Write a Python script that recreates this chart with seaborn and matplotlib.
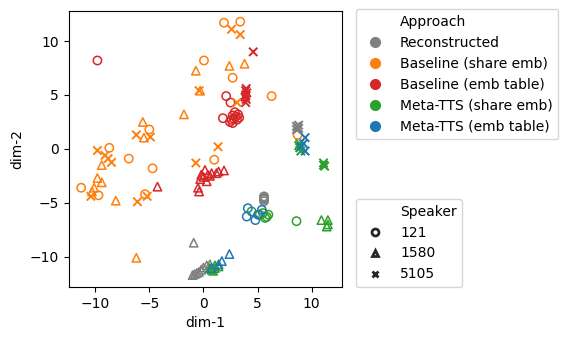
import numpy as np
import pandas as pd
import matplotlib
matplotlib.use('Agg')
import matplotlib.pyplot as plt
from matplotlib.lines import Line2D
import seaborn as sns

approaches = ['Reconstructed', 'Baseline (share emb)', 'Baseline (emb table)',
              'Meta-TTS (share emb)', 'Meta-TTS (emb table)']
speakers = ['121', '1580', '5105']
colors = ['tab:gray', 'tab:orange', 'tab:red', 'tab:green', 'tab:blue']

# Reconstructed
recon_spk = ['121'] * 5 + ['1580'] * 9 + ['5105'] * 5
recon_d1 = [5.6, 5.6, 5.6, 5.6, 5.6,
            -0.9, -1.0, -0.8, -0.6, -0.4, -0.2, 0.0, 0.3, 0.6,
            8.6, 8.7, 8.8, 8.6, 8.8]
recon_d2 = [-4.4, -4.5, -4.6, -4.7, -4.85,
            -8.7, -11.7, -11.6, -11.5, -11.4, -11.2, -11.0, -10.8, -10.7,
            1.8, 2.0, 2.2, 2.1, 1.9]

# Baseline (share emb)
bshare_spk = ['121'] * 14 + ['1580'] * 14 + ['5105'] * 15
bshare_d1 = [1.9, 3.4, 0.05, 2.7, 6.3, -5.0, -8.7, -6.9, -4.7, 1.0, -11.3, -9.7, -5.4, 8.7,
             -0.7, -0.3, -1.8, -5.6, -5.5, 2.4, 3.8, -9.4, -9.8, -9.4, -10.1, -10.3, -8.1, -6.2,
             2.6, 3.4, -0.4, -6.2, -4.9, -9.8, -9.1, -8.8, -8.5, -10.4, -6.1, -5.2, -0.7, 1.35, 3.1]
bshare_d2 = [11.7, 11.8, 8.2, 6.6, 4.9, 1.8, 0.1, -0.9, -1.8, -1.0, -3.6, -4.3, -4.2, 1.3,
             7.25, 5.4, 3.2, 2.5, 1.05, 7.7, 7.9, -1.5, -2.7, -3.1, -3.6, -3.95, -4.8, -10.1,
             11.1, 10.6, 5.4, 1.3, 1.1, -0.15, -0.6, -0.9, -1.25, -4.4, -4.9, -4.4, -1.3, 0.2, 4.3]

# Baseline (emb table)
btable_spk = ['121'] * 14 + ['1580'] * 14 + ['5105'] * 8
btable_d1 = [-9.8, 2.1, 2.5, 1.8, 2.45, 2.7, 2.8, 3.0, 3.2, 2.9, 3.1, 2.7, 3.3, 2.6,
             0.14, 0.0, 0.4, 0.75, 1.2, 1.9, -0.5, 0.3, -0.2, -4.25, -0.4, 1.4, 0.6, -0.3,
             4.6, 3.9, 3.95, 3.85, 3.9, 4.0, 3.9, 3.95]
btable_d2 = [8.2, 4.9, 4.3, 2.85, 2.5, 2.4, 2.8, 3.0, 3.2, 3.4, 2.7, 3.1, 2.9, 2.7,
             -1.95, -2.6, -2.4, -2.25, -2.25, -2.0, -3.6, -3.0, -2.4, -3.5, -3.95, -2.1, -2.5, -2.8,
             9.0, 4.3, 4.6, 4.8, 5.0, 5.2, 5.4, 5.6]

# Meta-TTS (share emb)
mshare_spk = ['121'] * 7 + ['1580'] * 10 + ['5105'] * 7
mshare_d1 = [4.45, 5.5, 5.85, 5.7, 5.2, 6.0, 8.6,
             10.9, 11.5, 11.5, 11.4, 0.75, 1.05, 1.4, 0.9, 0.6, 1.07,
             8.9, 8.9, 9.0, 8.8, 11.1, 11.1, 11.2]
mshare_d2 = [-5.8, -5.95, -6.3, -6.4, -6.1, -6.1, -6.7,
             -6.6, -6.6, -7.0, -7.2, -11.2, -11.05, -10.9, -11.3, -11.05, -10.8,
             0.5, 0.1, -0.2, 0.3, -1.5, -1.3, -1.6]

# Meta-TTS (emb table)
mtable_spk = ['121'] * 5 + ['1580'] * 4 + ['5105'] * 4
mtable_d1 = [4.1, 4.0, 4.8, 5.4, 5.05,
             2.4, 1.7, 0.75, 1.4,
             9.4, 9.25, 9.0, 9.4]
mtable_d2 = [-5.5, -6.27, -6.6, -5.65, -6.1,
             -9.75, -10.4, -11.05, -10.7,
             1.05, 0.5, 0.2, -0.2]

frames = []
for name, spk, d1, d2 in [
        (approaches[0], recon_spk, recon_d1, recon_d2),
        (approaches[1], bshare_spk, bshare_d1, bshare_d2),
        (approaches[2], btable_spk, btable_d1, btable_d2),
        (approaches[3], mshare_spk, mshare_d1, mshare_d2),
        (approaches[4], mtable_spk, mtable_d1, mtable_d2)]:
    frames.append(pd.DataFrame({'Approach': name, 'Speaker': spk, 'dim-1': d1, 'dim-2': d2}))
df = pd.concat(frames, ignore_index=True)

palette = dict(zip(approaches, colors))
markers = {'121': 'o', '1580': '^', '5105': 'x'}

fig, ax = plt.subplots(figsize=(5.68, 3.4), dpi=100)
fig.subplots_adjust(left=0.121, right=0.602, top=0.968, bottom=0.156)

for spk in speakers:
    sub = df[df['Speaker'] == spk]
    sns.scatterplot(data=sub, x='dim-1', y='dim-2', hue='Approach', hue_order=approaches,
                    palette=palette, marker=markers[spk], s=36, legend=False, ax=ax)
    coll = ax.collections[-1]
    if markers[spk] != 'x':
        fc = coll.get_facecolors()
        coll.set_edgecolors(fc)
        coll.set_facecolors('none')
        coll.set_linewidths(1.1)
    else:
        coll.set_linewidths(1.4)

ax.set_xlim(-12.45, 12.8)
ax.set_ylim(-12.8, 12.8)
ax.set_xlabel('dim-1')
ax.set_ylabel('dim-2')

# legends split in two boxes
h1 = [Line2D([], [], ls='', marker='')]
h1 += [Line2D([], [], ls='', marker='o', color=c, ms=7) for c in colors]
leg1 = ax.legend(h1, ['Approach'] + approaches, loc='upper left',
                 bbox_to_anchor=(1.05, 1.005), borderaxespad=0)
ax.add_artist(leg1)

h2 = [Line2D([], [], ls='', marker='')]
h2 += [Line2D([], [], ls='', marker=m, mfc='none', mec='.15', mew=2, ms=5)
       for m in ['o', '^', 'x']]
ax.legend(h2, ['Speaker'] + speakers, loc='lower left',
          bbox_to_anchor=(1.05, 0), borderaxespad=0)

plt.savefig('out.png', dpi=100)
